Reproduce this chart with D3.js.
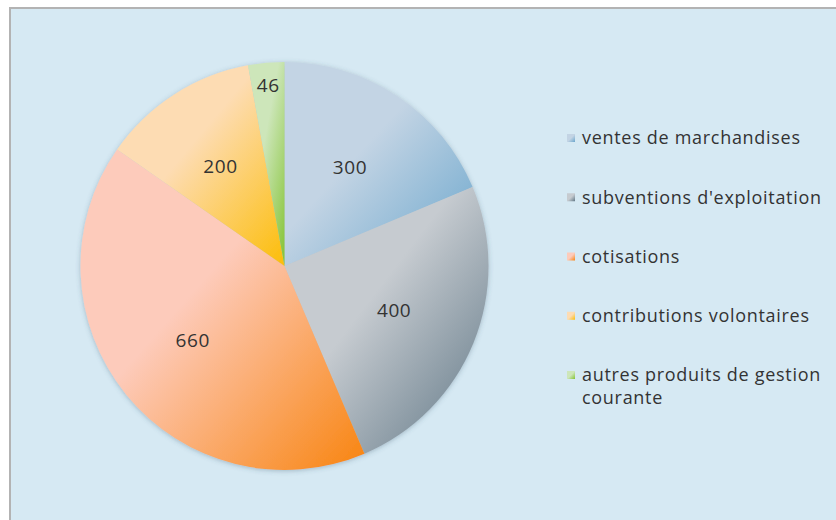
<!DOCTYPE html>
<html>
<head>
<meta charset="utf-8">
<script src="https://cdn.jsdelivr.net/npm/d3@7"></script>
<style>
  html, body { margin: 0; padding: 0; background: #ffffff; }
  svg { display: block; }
</style>
</head>
<body>
<svg id="chart" width="836" height="520"></svg>
<script>
// ---- data ----
const categories = [
  "ventes de marchandises",
  "subventions d'exploitation",
  "cotisations",
  "contributions volontaires",
  "autres produits de gestion courante"
];
const values = [300, 400, 660, 200, 46];
const lightColors = ["#c3d4e4", "#c6cbd0", "#fdcbbb", "#fddcb3", "#cde6ba"];
const darkColors  = ["#6aa6cc", "#5f7685", "#f8840f", "#fcbd08", "#84c333"];

// ---- layout ----
const W = 836, H = 520;
const cx = 284.5, cy = 266, R = 204;
const FONT = "'Open Sans', Lato, sans-serif";
const svg = d3.select("#chart");
const defs = svg.append("defs");

// background frame
svg.append("rect").attr("x", 0).attr("y", 0).attr("width", W).attr("height", H).attr("fill", "#ffffff");
svg.append("rect").attr("x", 10).attr("y", 8).attr("width", W + 20).attr("height", H + 20)
  .attr("fill", "#d6e9f3").attr("stroke", "#b3b3b3").attr("stroke-width", 2);

// gradients
categories.forEach((c, i) => {
  const g = defs.append("linearGradient").attr("id", "grad" + i)
    .attr("x1", 0).attr("y1", 0).attr("x2", 1).attr("y2", 1);
  g.append("stop").attr("offset", "0%").attr("stop-color", lightColors[i]);
  g.append("stop").attr("offset", "42%").attr("stop-color", lightColors[i]);
  g.append("stop").attr("offset", "100%").attr("stop-color", darkColors[i]);
});

// shadow
const f = defs.append("filter").attr("id", "shadow").attr("x", "-10%").attr("y", "-10%").attr("width", "120%").attr("height", "120%");
f.append("feDropShadow").attr("dx", 0).attr("dy", 1).attr("stdDeviation", 2.5)
  .attr("flood-color", "#3a5a70").attr("flood-opacity", 0.35);

const pie = d3.pie().sort(null).value(d => d)(values);
const arc = d3.arc().innerRadius(0).outerRadius(R);
const labelArc = d3.arc().innerRadius(R * 0.58).outerRadius(R * 0.58);
const smallLabelArc = d3.arc().innerRadius(R * 0.89).outerRadius(R * 0.89);
const total = d3.sum(values);

const g = svg.append("g").attr("transform", `translate(${cx},${cy})`);
g.append("g").attr("filter", "url(#shadow)")
  .selectAll("path").data(pie).join("path")
  .attr("d", arc)
  .attr("fill", (d, i) => `url(#grad${i})`);

g.selectAll("text.lbl").data(pie).join("text")
  .attr("class", "lbl")
  .attr("transform", d => `translate(${(d.value / total < 0.05 ? smallLabelArc : labelArc).centroid(d)})`)
  .attr("text-anchor", "middle")
  .attr("dy", "0.35em")
  .attr("font-family", FONT)
  .attr("font-size", 19)
  .attr("letter-spacing", 0.6)
  .attr("fill", "#333333")
  .text(d => d.value);

// legend
const legendY = d3.scalePoint().domain(categories).range([138, 375]);
const lg = svg.append("g");
const items = lg.selectAll("g").data(categories).join("g")
  .attr("transform", d => `translate(567,${legendY(d)})`);
categories.forEach((c, i) => {
  const sg = defs.append("linearGradient").attr("id", "sw" + i)
    .attr("x1", 0).attr("y1", 0).attr("x2", 1).attr("y2", 1);
  sg.append("stop").attr("offset", "0%").attr("stop-color", lightColors[i]);
  sg.append("stop").attr("offset", "50%").attr("stop-color", lightColors[i]);
  sg.append("stop").attr("offset", "100%").attr("stop-color", darkColors[i]);
});
items.append("rect").attr("x", 0).attr("y", -4).attr("width", 8).attr("height", 8)
  .attr("fill", (d, i) => `url(#sw${i})`);
items.each(function(d) {
  const t = d3.select(this).append("text")
    .attr("x", 15).attr("y", 0)
    .attr("font-family", FONT)
    .attr("font-size", 18)
    .attr("letter-spacing", 0.7)
    .attr("fill", "#333333");
  const lines = d === "autres produits de gestion courante"
    ? ["autres produits de gestion", "courante"] : [d];
  lines.forEach((l, k) => t.append("tspan").attr("x", 15).attr("dy", k === 0 ? "0.35em" : "1.25em").text(l));
});
</script>
</body>
</html>
